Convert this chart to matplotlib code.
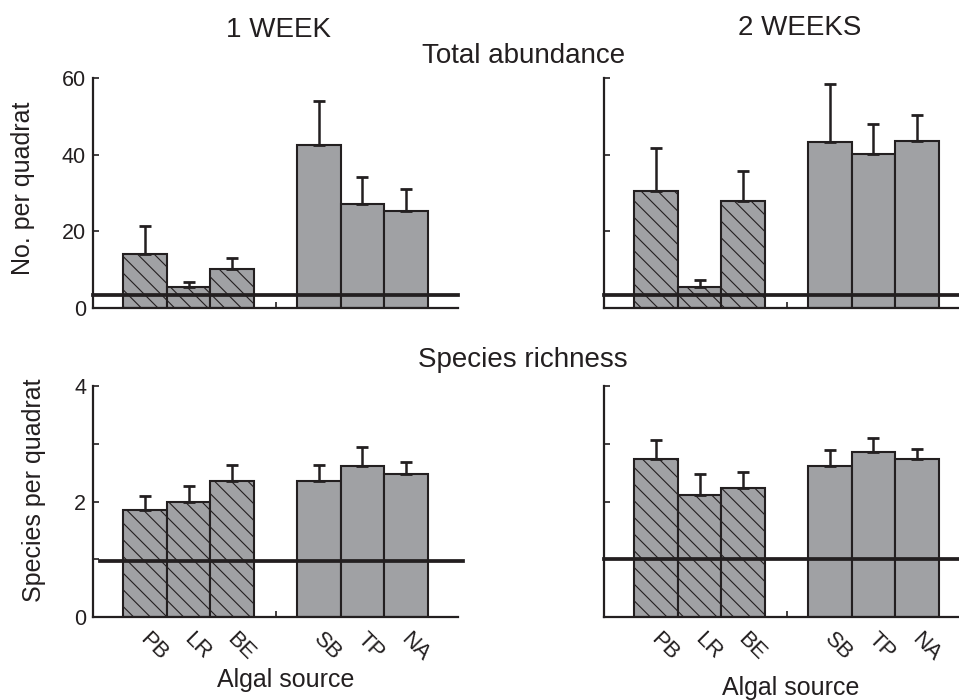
import matplotlib
matplotlib.use("Agg")
import matplotlib.pyplot as plt
import matplotlib.transforms as mtransforms

plt.rcParams['font.family'] = ['Liberation Sans', 'DejaVu Sans']
plt.rcParams['hatch.linewidth'] = 0.8

ink = '#231f20'
bar_grey = '#a0a1a4'

# algal sources, x positions (gap at 4 between the two groups)
sources = ['PB', 'LR', 'BE', 'SB', 'TP', 'NA']
xpos = [1, 2, 3, 5, 6, 7]
hatched = [True, True, True, False, False, False]

# total abundance (no. per quadrat) and upper error
abund_1wk = [14.0, 5.4, 10.3, 42.4, 27.0, 25.3]
abund_1wk_err = [7.5, 1.5, 2.7, 11.7, 7.1, 5.8]
abund_2wk = [30.6, 5.6, 28.0, 43.3, 40.3, 43.6]
abund_2wk_err = [11.1, 1.7, 7.8, 15.1, 7.7, 6.7]

# species richness (species per quadrat) and upper error
rich_1wk = [1.86, 1.99, 2.36, 2.36, 2.61, 2.48]
rich_1wk_err = [0.24, 0.28, 0.27, 0.28, 0.34, 0.21]
rich_2wk = [2.74, 2.12, 2.24, 2.61, 2.86, 2.74]
rich_2wk_err = [0.33, 0.36, 0.27, 0.28, 0.24, 0.17]

# reference (control) levels drawn as thick horizontal lines
abund_ref = [3.4, 3.4]
rich_ref = [0.97, 1.0]

W, H = 959, 700
fig = plt.figure(figsize=(W / 100, H / 100), dpi=100)


def make_ax(left, top_px, bottom_px):
    return fig.add_axes([left / W, (H - bottom_px) / H, 365 / W, (bottom_px - top_px) / H])


ax_a1 = make_ax(93, 78, 308)
ax_a2 = make_ax(604, 78, 308)
ax_r1 = make_ax(93, 386, 617.3)
ax_r2 = make_ax(604, 386, 617.3)


def draw_panel(ax, vals, errs, ref, ymax, major, minor, show_labels, show_cats, ref_span):
    for x, v, h in zip(xpos, vals, hatched):
        ax.bar(x, v, width=1.0, color=bar_grey, edgecolor=ink, linewidth=1.5,
               hatch='\\\\' if h else None, zorder=2)
    ax.errorbar(xpos, vals, yerr=[[0] * len(vals), errs], fmt='none', ecolor=ink,
                elinewidth=1.8, capsize=4.5, capthick=2.0, zorder=3)
    ax.axhline(ref, xmin=ref_span[0], xmax=ref_span[1], color=ink, linewidth=2.7,
               zorder=4, clip_on=False)
    ax.set_xlim(-0.2, 8.2)
    ax.set_ylim(0, ymax)
    for s in ['top', 'right']:
        ax.spines[s].set_visible(False)
    for s in ['left', 'bottom']:
        ax.spines[s].set_linewidth(1.6)
        ax.spines[s].set_color(ink)
    ax.set_yticks(major)
    ax.set_yticks(minor, minor=True)
    ax.tick_params(axis='y', which='both', direction='in', length=4, width=1.2,
                   colors=ink, labelsize=15.5, pad=5, labelleft=show_labels)
    if show_cats:
        ax.set_xticks(xpos)
        ax.set_xticklabels(sources, rotation=-45, ha='left', va='top',
                           rotation_mode='anchor', fontsize=16, color=ink)
        ax.tick_params(axis='x', which='major', length=0, pad=8)
        shift = mtransforms.ScaledTranslation(4 / 72, 0, fig.dpi_scale_trans)
        for lab in ax.get_xticklabels():
            lab.set_transform(lab.get_transform() + shift)
    else:
        ax.set_xticks([])
    ax.set_xticks([4], minor=True)
    ax.tick_params(axis='x', which='minor', direction='in', length=4, width=1.2, colors=ink)


draw_panel(ax_a1, abund_1wk, abund_1wk_err, abund_ref[0], 60, [0, 20, 40, 60], [],
           True, False, (0, 1.0))
draw_panel(ax_a2, abund_2wk, abund_2wk_err, abund_ref[1], 60, [0, 20, 40, 60], [],
           False, False, (0, 1.0))
draw_panel(ax_r1, rich_1wk, rich_1wk_err, rich_ref[0], 4, [0, 2, 4], [1, 3],
           True, True, (0.019, 1.014))
draw_panel(ax_r2, rich_2wk, rich_2wk_err, rich_ref[1], 4, [0, 2, 4], [1, 3],
           False, True, (0, 1.0))

# titles and labels
fig.text(279 / W, (H - 37) / H, '1 WEEK', ha='center', va='baseline', fontsize=20, color=ink)
fig.text(800 / W, (H - 35) / H, '2 WEEKS', ha='center', va='baseline', fontsize=20, color=ink)
fig.text(524 / W, (H - 63) / H, 'Total abundance', ha='center', va='baseline', fontsize=20, color=ink)
fig.text(523 / W, (H - 367) / H, 'Species richness', ha='center', va='baseline', fontsize=20, color=ink)
fig.text(286 / W, (H - 687) / H, 'Algal source', ha='center', va='baseline', fontsize=18, color=ink)
fig.text(791 / W, (H - 695) / H, 'Algal source', ha='center', va='baseline', fontsize=18, color=ink)
fig.text(23 / W, (H - 188) / H, 'No. per quadrat', rotation=90, ha='center', va='center',
         fontsize=18, color=ink)
fig.text(34 / W, (H - 490) / H, 'Species per quadrat', rotation=90, ha='center', va='center',
         fontsize=18, color=ink)

fig.savefig('out.png', dpi=100)
